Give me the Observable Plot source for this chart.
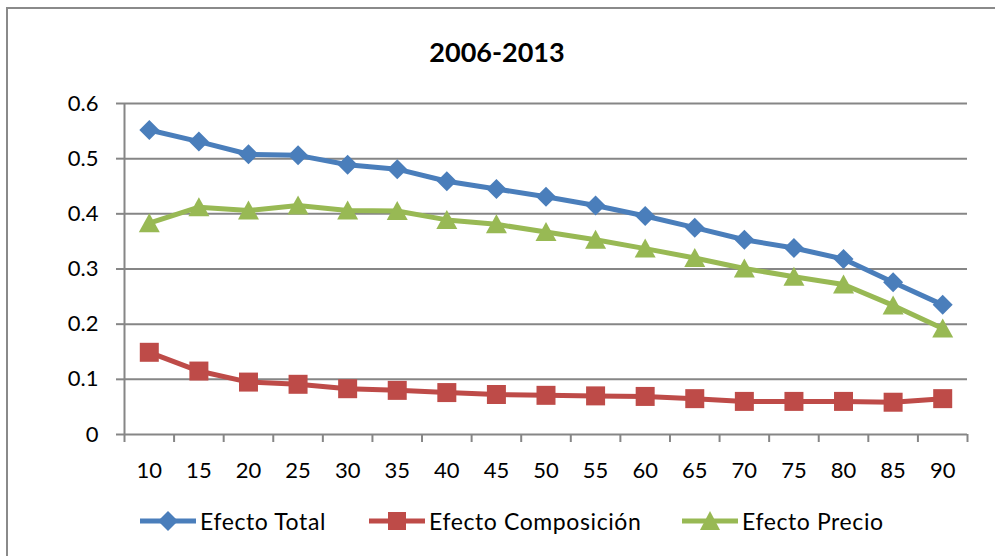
<!DOCTYPE html>
<html>
<head>
<meta charset="utf-8">
<script src="https://cdn.jsdelivr.net/npm/d3@7"></script>
<script src="https://cdn.jsdelivr.net/npm/@observablehq/plot@0.6"></script>
<style>
  html, body { margin: 0; padding: 0; background: #fff; }
  #wrap { position: relative; width: 995px; height: 556px; overflow: hidden; font-family: Lato, "Open Sans", sans-serif; }
  #frame { position: absolute; left: 6px; top: 7px; width: 1100px; height: 700px; border-top: 2px solid #8a8a8a; border-left: 2px solid #8a8a8a; }
  #title { position: absolute; left: 0; width: 995px; top: 36px; text-align: center; font-weight: bold; font-size: 27px; line-height: 32px; padding-right: 0; }
  #title span { position: absolute; left: 497px; transform: translateX(-50%); white-space: nowrap; }
  #chart { position: absolute; left: 0; top: 0; }
  .leg { position: absolute; top: 507px; height: 28px; display: flex; align-items: center; font-size: 23px; letter-spacing: 0.6px; white-space: nowrap; }
  .leg svg { display: block; margin-right: 4px; }
</style>
</head>
<body>
<div id="wrap">
  <div id="frame"></div>
  <div id="chart"></div>
  <div id="title"><span>2006-2013</span></div>
  <div id="legend"></div>
</div>
<script>
const title = "2006-2013";
const categories = [10, 15, 20, 25, 30, 35, 40, 45, 50, 55, 60, 65, 70, 75, 80, 85, 90];
const efectoTotal = [0.552, 0.531, 0.508, 0.506, 0.489, 0.481, 0.459, 0.445, 0.431, 0.415, 0.396, 0.375, 0.353, 0.338, 0.318, 0.276, 0.235];
const efectoComposicion = [0.149, 0.115, 0.095, 0.091, 0.083, 0.080, 0.076, 0.0725, 0.071, 0.070, 0.069, 0.065, 0.060, 0.060, 0.060, 0.0585, 0.065];
const efectoPrecio = [0.383, 0.412, 0.406, 0.415, 0.406, 0.405, 0.389, 0.381, 0.367, 0.353, 0.337, 0.320, 0.301, 0.286, 0.272, 0.234, 0.192];
const seriesNames = ["Efecto Total", "Efecto Composición", "Efecto Precio"];
const yTicks = [0, 0.1, 0.2, 0.3, 0.4, 0.5, 0.6];
const yTickLabels = ["0", "0.1", "0.2", "0.3", "0.4", "0.5", "0.6"];

const colors = ["#4A7EBB", "#BE4B48", "#98B954"];
const gridColor = "#868686";

const step = categories[1] - categories[0];
const boundaries = [...categories.map(c => c - step / 2), categories[categories.length - 1] + step / 2];

const diamond = {draw(ctx) { ctx.moveTo(0, -10); ctx.lineTo(10, 0); ctx.lineTo(0, 10); ctx.lineTo(-10, 0); ctx.closePath(); }};
const square = {draw(ctx) { ctx.moveTo(-9.5, -9.5); ctx.lineTo(9.5, -9.5); ctx.lineTo(9.5, 9.5); ctx.lineTo(-9.5, 9.5); ctx.closePath(); }};
const triangle = {draw(ctx) { ctx.moveTo(0, -10); ctx.lineTo(10.5, 9); ctx.lineTo(-10.5, 9); ctx.closePath(); }};
const symbols = [diamond, square, triangle];
const seriesValues = [efectoTotal, efectoComposicion, efectoPrecio];

const marks = [
  Plot.ruleY(yTicks, {stroke: gridColor, strokeWidth: 2}),
  Plot.ruleX([boundaries[0]], {stroke: gridColor, strokeWidth: 2}),
  Plot.axisY({ticks: yTicks, tickSize: 8, tickFormat: () => "", stroke: gridColor, strokeWidth: 2}),
  Plot.axisY({ticks: yTicks, tickSize: 0, tickPadding: 26, tickFormat: (d, i) => yTickLabels[yTicks.indexOf(d)], fill: "#000", fontSize: 22}),
  Plot.axisX({ticks: boundaries, tickSize: 8, tickFormat: () => "", stroke: gridColor, strokeWidth: 2}),
  Plot.axisX({ticks: categories, tickSize: 0, tickPadding: 28, tickFormat: d => String(d), fill: "#000", fontSize: 22})
];
seriesValues.forEach((vals, i) => {
  marks.push(Plot.lineY(vals, {x: categories, y: d => d, stroke: colors[i], strokeWidth: 5, strokeLinejoin: "round"}));
});
seriesValues.forEach((vals, i) => {
  marks.push(Plot.dot(vals, {x: categories, y: d => d, symbol: symbols[i], fill: colors[i], r: 10}));
});

const chart = Plot.plot({
  width: 995,
  height: 556,
  marginLeft: 124,
  marginRight: 28,
  marginTop: 103,
  marginBottom: 122,
  x: {domain: [boundaries[0], boundaries[boundaries.length - 1]], label: null},
  y: {domain: [0, 0.6], label: null},
  style: {fontFamily: "Lato, 'Open Sans', sans-serif", fontSize: "22px", color: "#000", background: "transparent", overflow: "visible"},
  marks
});
document.getElementById("chart").appendChild(chart);

// Legend
const legendLefts = [140, 369, 682];
const legend = document.getElementById("legend");
const symbolPaths = [
  "M28,2 L38,12 L28,22 L18,12 Z",
  "M19,3 L37,3 L37,21 L19,21 Z",
  "M28,2 L38,21 L18,21 Z"
];
seriesNames.forEach((name, i) => {
  const item = document.createElement("div");
  item.className = "leg";
  item.style.left = legendLefts[i] + "px";
  item.innerHTML = `<svg width="56" height="24" viewBox="0 0 56 24"><line x1="0" y1="12" x2="56" y2="12" stroke="${colors[i]}" stroke-width="5"/><path d="${symbolPaths[i]}" fill="${colors[i]}"/></svg><span>${name}</span>`;
  legend.appendChild(item);
});
</script>
</body>
</html>
